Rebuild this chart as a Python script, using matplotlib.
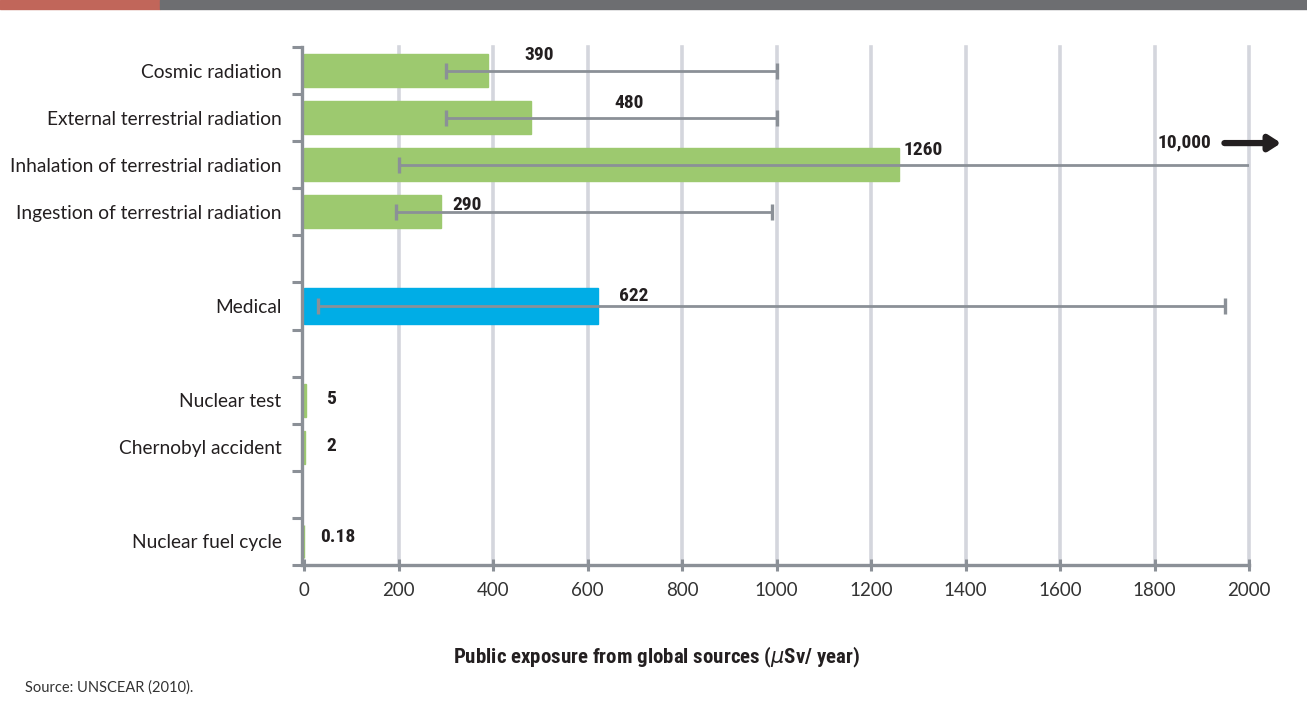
"""Public exposure to ionising radiation from global sources."""

import matplotlib
matplotlib.use("agg")

import numpy as np
import matplotlib.pyplot as plt
from matplotlib.patches import Rectangle
from matplotlib import font_manager

# ── data ─────────────────────────────────────────────────────────────────
sources = [
    "Cosmic radiation",
    "External terrestrial radiation",
    "Inhalation of terrestrial radiation",
    "Ingestion of terrestrial radiation",
    "Medical",
    "Nuclear test",
    "Chernobyl accident",
    "Nuclear fuel cycle",
]
dose = [390, 480, 1260, 290, 622, 5, 2, 0.18]          # µSv / year
range_low = [300, 300, 200, 195, 30, np.nan, np.nan, np.nan]
range_high = [1000, 1000, 10000, 990, 1950, np.nan, np.nan, np.nan]
dose_labels = ["390", "480", "1260", "290", "622", "5", "2", "0.18"]
x_ticks = list(range(0, 2001, 200))

# ── layout ───────────────────────────────────────────────────────────────
slots = [0, 1, 2, 3, 5, 7, 8, 10]          # row each source sits in (11 rows)
n_slots = 11
label_x = [497, 687, 1311, 345, 698, 57, 57, 72]
label_dy = [-0.33, -0.31, -0.31, -0.14, -0.21, -0.03, -0.03, -0.09]

GREEN = "#9dc96f"
BLUE = "#00ade6"
AXIS_GREY = "#8b9097"
GRID = "#d4d6dd"
TEXT = "#231f20"

plt.rcParams["font.family"] = ["Lato", "DejaVu Sans"]

# a condensed face for the bold figures, if one is installed
installed = {f.name for f in font_manager.fontManager.ttflist}
NARROW = "DejaVu Sans"
for cand in ["Roboto Condensed", "Liberation Sans Narrow", "Open Sans Condensed",
             "Noto Sans Condensed", "DejaVu Sans Condensed"]:
    if cand in installed:
        NARROW = cand
        break
NARROW_STRETCH = "condensed"

fig = plt.figure(figsize=(13.07, 7.05), dpi=100)

# header strip
fig.patches.append(Rectangle((0, 1 - 9 / 705), 160 / 1307, 9 / 705,
                             transform=fig.transFigure, color="#c1665a", zorder=0))
fig.patches.append(Rectangle((160 / 1307, 1 - 9 / 705), 1 - 160 / 1307, 9 / 705,
                             transform=fig.transFigure, color="#6d6e71", zorder=0))

ax = fig.add_axes([304 / 1307, 1 - 565 / 705, 945 / 1307, 518 / 705])

centers = np.array(slots) + 0.5
colors = [BLUE if s == "Medical" else GREEN for s in sources]
heights = [0.77 if s == "Medical" else 0.7 for s in sources]
ax.barh(centers, dose, height=heights, color=colors, edgecolor=colors,
        linewidth=1.0, zorder=2)

# uncertainty ranges
lo = np.array(range_low)
hi = np.array(range_high)
val = np.array(dose, dtype=float)
has = ~np.isnan(lo)
ax.errorbar(val[has], centers[has], xerr=[val[has] - lo[has], hi[has] - val[has]],
            fmt="none", ecolor=AXIS_GREY, elinewidth=2.0, capsize=6, capthick=2.4,
            zorder=3)

for i, txt in enumerate(dose_labels):
    ax.text(label_x[i], centers[i] + label_dy[i], txt, ha="center", va="center",
            fontsize=14, fontweight="bold", family=NARROW, fontstretch=NARROW_STRETCH,
            color=TEXT, zorder=4)

# off-scale upper bound for inhalation
inh = sources.index("Inhalation of terrestrial radiation")
ax.text(1863, slots[inh] + 0.02, "{:,}".format(int(range_high[inh])),
        ha="center", va="center", fontsize=14, fontweight="bold",
        family=NARROW, fontstretch=NARROW_STRETCH, color=TEXT, clip_on=False)
ax.annotate("", xy=(2068, slots[inh] + 0.04), xytext=(1948, slots[inh] + 0.04),
            arrowprops=dict(arrowstyle="-|>,head_length=0.7,head_width=0.45",
                            lw=4.5, color=TEXT, shrinkA=0, shrinkB=0),
            annotation_clip=False)

# vertical grid
for x in x_ticks[1:]:
    ax.axvline(x, color=GRID, lw=2.6, zorder=1, clip_on=False)

ax.set_xlim(0, 2000)
ax.set_ylim(n_slots, 0)

ax.set_xticks(x_ticks)
ax.set_xticklabels([str(x) for x in x_ticks])
ax.tick_params(axis="x", direction="inout", length=9, width=2.2, color=AXIS_GREY,
               pad=8, labelsize=13.5, labelcolor="#333333")

ax.set_yticks(centers)
ax.set_yticklabels(sources)
ax.set_yticks(np.arange(n_slots + 1), minor=True)
ax.tick_params(axis="y", which="major", length=0, pad=15, labelsize=13.8,
               labelcolor=TEXT)
ax.tick_params(axis="y", which="minor", direction="out", length=7, width=2.2,
               color=AXIS_GREY)

for side in ["top", "right"]:
    ax.spines[side].set_visible(False)
for side in ["left", "bottom"]:
    ax.spines[side].set_color(AXIS_GREY)
    ax.spines[side].set_linewidth(2.4)
    ax.spines[side].set_zorder(5)
ax.spines["left"].set_position(("outward", 1.2))

fig.text(657 / 1307, 1 - 657 / 705, "Public exposure from global sources ($\\mu$Sv/ year)",
         ha="center", va="center", fontsize=15, fontweight="bold", family=NARROW,
         fontstretch=NARROW_STRETCH, color=TEXT)
fig.text(25 / 1307, 1 - 688 / 705, "Source: UNSCEAR (2010).", ha="left", va="center",
         fontsize=10.5, color="#333333")

fig.savefig("out.png", dpi=100)
plt.close(fig)
